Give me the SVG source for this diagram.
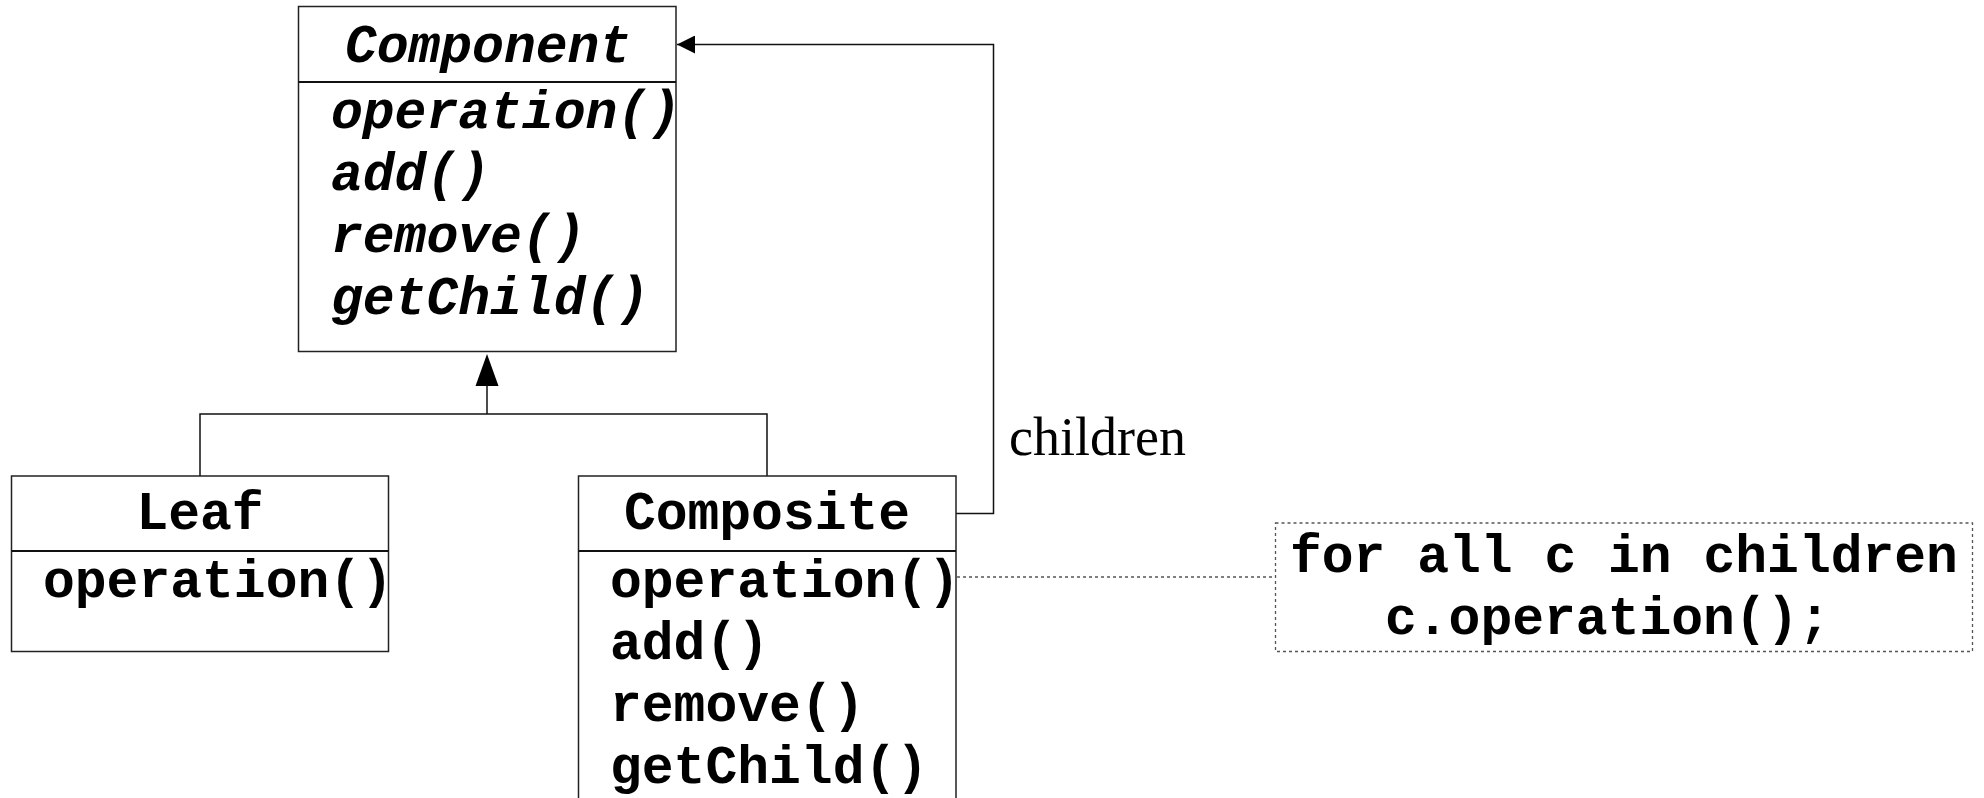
<svg xmlns="http://www.w3.org/2000/svg" width="1984" height="798" viewBox="0 0 1984 798">
<style>
.box{fill:#fff;stroke:#222;stroke-width:1.5}
.div{stroke:#111;stroke-width:2.2}
.mono{font-family:"Liberation Mono","Courier New",monospace;font-weight:bold;font-size:53px;fill:#000}
.it{font-style:italic}
.conn{fill:none;stroke:#111;stroke-width:1.5}
.dot{fill:none;stroke:#555;stroke-width:1.3;stroke-dasharray:3 3}
.lbl{font-family:"Liberation Serif","Times New Roman",serif;font-size:54px;fill:#000}
</style>
<defs>
<marker id="arr" viewBox="0 0 18 18" refX="18" refY="9" markerWidth="18" markerHeight="18" markerUnits="userSpaceOnUse" orient="auto">
<path d="M0,0 L18,9 L0,18 Z" fill="#000"/>
</marker>
</defs>
<g id="connectors">
<path class="conn" d="M200,476 V414 H767 V476"/>
<path class="conn" d="M487,414 V386"/>
<polygon points="487,354 475.5,386 498.5,386" fill="#000"/>
<path class="conn" d="M956,513.5 H993.5 V44.5 H677" marker-end="url(#arr)"/>
<path class="dot" d="M957,577 H1275"/>
<text class="lbl" x="1009" y="455">children</text>
</g>
<g id="component">
<rect class="box" x="298.5" y="6.5" width="377.5" height="345"/>
<line class="div" x1="298.5" y1="82" x2="676" y2="82"/>
<text class="mono it" x="488" y="62" text-anchor="middle">Component</text>
<text class="mono it" x="331" y="128">operation()</text>
<text class="mono it" x="331" y="190">add()</text>
<text class="mono it" x="331" y="252">remove()</text>
<text class="mono it" x="331" y="314">getChild()</text>
</g>
<g id="leaf">
<rect class="box" x="11.5" y="476" width="377" height="175.5"/>
<line class="div" x1="11.5" y1="551" x2="388.5" y2="551"/>
<text class="mono" x="200" y="529" text-anchor="middle">Leaf</text>
<text class="mono" x="43" y="597">operation()</text>
</g>
<g id="composite">
<rect class="box" x="578.5" y="476" width="377.5" height="340"/>
<line class="div" x1="578.5" y1="551" x2="956" y2="551"/>
<text class="mono" x="767" y="529" text-anchor="middle">Composite</text>
<text class="mono" x="610" y="597">operation()</text>
<text class="mono" x="610" y="659">add()</text>
<text class="mono" x="610" y="721">remove()</text>
<text class="mono" x="610" y="783">getChild()</text>
</g>
<g id="note">
<rect x="1275.5" y="523" width="697" height="128.5" fill="#fff" stroke="#555" stroke-width="1.3" stroke-dasharray="3 3"/>
<text class="mono" x="1290" y="572">for all c in children</text>
<text class="mono" x="1385" y="634">c.operation();</text>
</g>
</svg>
